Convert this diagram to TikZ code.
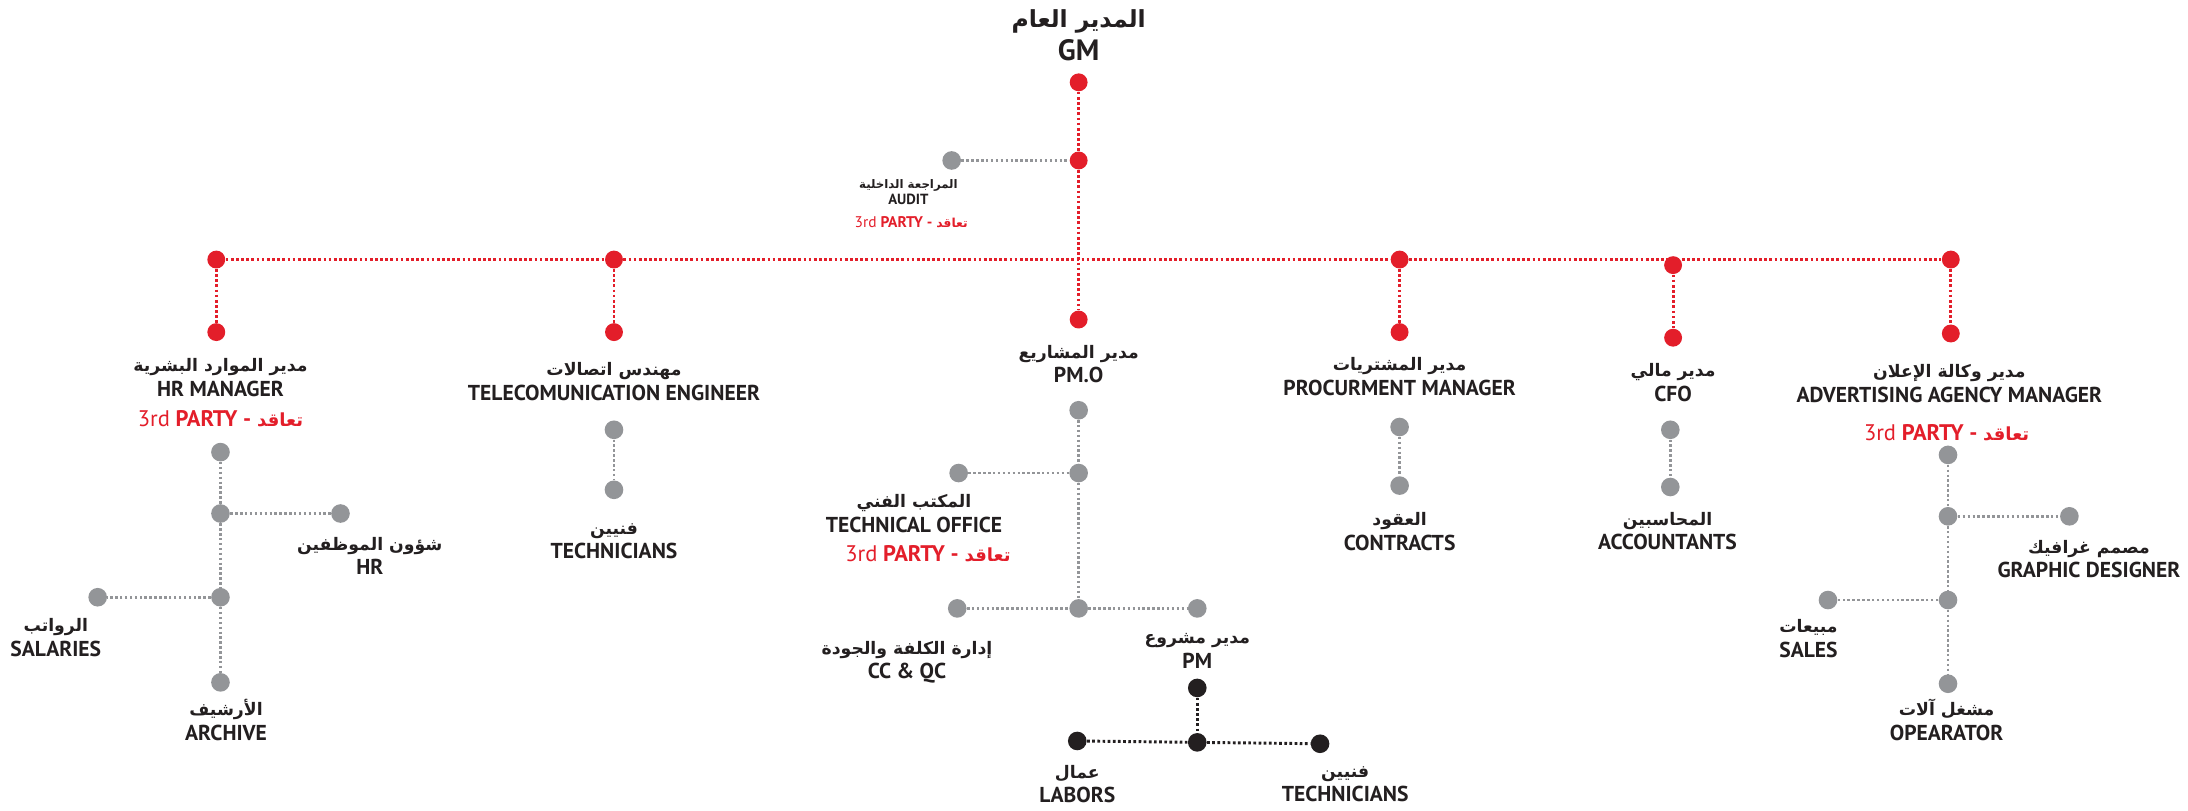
\documentclass[tikz,border=0pt]{standalone}
\usepackage{fontspec}
\setmainfont{PT Sans}
\newfontfamily\arabicfont[Script=Arabic,Scale=0.8]{DejaVu Sans}
\TeXXeTstate=1
\usetikzlibrary{positioning}
\definecolor{orgred}{HTML}{E31E2A}
\definecolor{orggrey}{HTML}{939598}
\definecolor{orgblack}{HTML}{231F20}
\newcommand{\ar}[1]{{\arabicfont\bfseries\beginR #1\endR}}
\newcommand{\third}{{\mdseries 3rd} PARTY - \ar{تعاقد}}

\tikzset{
  reddot/.style={circle,fill=orgred,inner sep=0pt,minimum size=7.3pt},
  greydot/.style={circle,fill=orggrey,inner sep=0pt,minimum size=7.6pt},
  blackdot/.style={circle,fill=orgblack,inner sep=0pt,minimum size=7.6pt},
  redlink/.style={orgred,line width=1.2pt,dash pattern=on 1.1pt off 1pt},
  greylink/.style={orggrey,line width=1.1pt,dash pattern=on 1pt off 1pt},
  blacklink/.style={orgblack,line width=1.2pt,dash pattern=on 1.1pt off 1pt},
  txt/.style={align=center,inner sep=0pt,text=orgblack,font=\fontsize{8.8}{10}\selectfont\bfseries},
  smalltxt/.style={align=center,inner sep=0pt,text=orgblack,font=\fontsize{6}{6.4}\selectfont\bfseries},
  redtxt/.style={inner sep=0pt,text=orgred,font=\fontsize{9.2}{10}\selectfont\bfseries}
}

\begin{document}
\begin{tikzpicture}[x=0.02cm,y=-0.02cm]
\useasboundingbox (0,0) rectangle (1568,581);

%GM
\node[txt,font=\fontsize{12}{13.5}\selectfont\bfseries] (gmtxt) at (773,25) {\ar{المدير العام}\\GM};
\node[reddot] (gm) at (773,59) {};
\node[reddot] (gmsplit) at (773,115) {};
\node[greydot] (audit) at (682,115) {};
\node[smalltxt] (audittxt) at (651,137.5) {\ar{المراجعة الداخلية}\\AUDIT};
\node[redtxt,font=\fontsize{6.3}{7}\selectfont\bfseries] (audit3rd) at (653,159) {\third};
\draw[redlink] (gm) -- (gmsplit);
\draw[greylink] (audit) -- (gmsplit);

%first level
\node[reddot] (hrtop) at (155,186) {};
\node[reddot] (teltop) at (440,186) {};
\node[reddot] (proctop) at (1003,186) {};
\node[reddot] (cfotop) at (1199,190) {};
\node[reddot] (advtop) at (1398,186) {};
\node[reddot] (hr) at (155,238) {};
\node[reddot] (tel) at (440,238) {};
\node[reddot] (pmo) at (773,229) {};
\node[reddot] (proc) at (1003,238) {};
\node[reddot] (cfo) at (1199,242) {};
\node[reddot] (adv) at (1398,239) {};
\draw[redlink] (hrtop) -- (teltop) -- (proctop) -- (advtop);
\draw[redlink] (gmsplit) -- (pmo);
\foreach \n in {hr,tel,proc,cfo,adv}
  \draw[redlink] (\n top) -- (\n);

\node[txt] (hrtxt) at (158,270.5) {\ar{مدير الموارد البشرية}\\HR MANAGER};
\node[redtxt] (hr3rd) at (158,300) {\third};
\node[txt] (teltxt) at (440,273.5) {\ar{مهندس اتصالات}\\TELECOMUNICATION ENGINEER};
\node[txt] (pmotxt) at (773,261) {\ar{مدير المشاريع}\\PM.O};
\node[txt] (proctxt) at (1003,270) {\ar{مدير المشتريات}\\PROCURMENT MANAGER};
\node[txt] (cfotxt) at (1199,274) {\ar{مدير مالي}\\CFO};
\node[txt] (advtxt) at (1397,275) {\ar{مدير وكالة الإعلان}\\ADVERTISING AGENCY MANAGER};
\node[redtxt] (adv3rd) at (1395,310) {\third};

%HR branch
\node[greydot] (hra) at (158,324) {};
\node[greydot] (hrb) at (158,368) {};
\node[greydot] (staff) at (244,368) {};
\node[greydot] (hrc) at (158,428) {};
\node[greydot] (salaries) at (70,428) {};
\node[greydot] (archive) at (158,489) {};
\draw[greylink] (hra) -- (hrb) -- (hrc) -- (archive);
\draw[greylink] (hrb) -- (staff);
\draw[greylink] (hrc) -- (salaries);
\node[txt] (stafftxt) at (265,398.5) {\ar{شؤون الموظفين}\\HR};
\node[txt] (salariestxt) at (40,457) {\ar{الرواتب}\\SALARIES};
\node[txt] (archivetxt) at (162,516) {\ar{الأرشيف}\\ARCHIVE};

%telecom branch
\node[greydot] (tela) at (440,308) {};
\node[greydot] (teltech) at (440,351) {};
\draw[greylink] (tela) -- (teltech);
\node[txt] (teltechtxt) at (440,388) {\ar{فنيين}\\TECHNICIANS};

%PM.O branch
\node[greydot] (pmoa) at (773,294) {};
\node[greydot] (pmob) at (773,339) {};
\node[greydot] (techoff) at (687,339) {};
\node[greydot] (pmoc) at (773,436) {};
\node[greydot] (ccqc) at (686,436) {};
\node[greydot] (pm) at (858,436) {};
\draw[greylink] (pmoa) -- (pmob) -- (pmoc);
\draw[greylink] (techoff) -- (pmob);
\draw[greylink] (ccqc) -- (pmoc) -- (pm);
\node[txt] (techofftxt) at (655,368) {\ar{المكتب الفني}\\TECHNICAL OFFICE};
\node[redtxt] (techoff3rd) at (665,397) {\third};
\node[txt] (ccqctxt) at (650,474.5) {\ar{إدارة الكلفة والجودة}\\CC \& QC};
\node[txt] (pmtxt) at (858,466.5) {\ar{مدير مشروع}\\PM};

%PM team
\node[blackdot] (pma) at (858,493) {};
\node[blackdot] (pmb) at (858,532) {};
\node[blackdot] (labors) at (772,531) {};
\node[blackdot] (pmtech) at (946,533) {};
\draw[blacklink] (pma) -- (pmb);
\draw[blacklink] (labors) -- (pmb) -- (pmtech);
\node[txt] (laborstxt) at (772,562) {\ar{عمال}\\LABORS};
\node[txt] (pmtechtxt) at (964,562) {\ar{فنيين}\\TECHNICIANS};

%procurement and CFO branches
\node[greydot] (proca) at (1003,306) {};
\node[greydot] (contracts) at (1003,348) {};
\draw[greylink] (proca) -- (contracts);
\node[txt] (contractstxt) at (1003,381) {\ar{العقود}\\CONTRACTS};
\node[greydot] (cfoa) at (1197,308) {};
\node[greydot] (accountants) at (1197,349) {};
\draw[greylink] (cfoa) -- (accountants);
\node[txt] (accountantstxt) at (1195,380.5) {\ar{المحاسبين}\\ACCOUNTANTS};

%advertising branch
\node[greydot] (adva) at (1396,326) {};
\node[greydot] (advb) at (1396,370) {};
\node[greydot] (graphic) at (1483,370) {};
\node[greydot] (advc) at (1396,430) {};
\node[greydot] (sales) at (1310,430) {};
\node[greydot] (operator) at (1396,490) {};
\draw[greylink] (adva) -- (advb) -- (advc) -- (operator);
\draw[greylink] (advb) -- (graphic);
\draw[greylink] (advc) -- (sales);
\node[txt] (graphictxt) at (1497,400.5) {\ar{مصمم غرافيك}\\GRAPHIC DESIGNER};
\node[txt] (salestxt) at (1296,457.5) {\ar{مبيعات}\\SALES};
\node[txt] (operatortxt) at (1395,516) {\ar{مشغل آلات}\\OPEARATOR};
\end{tikzpicture}
\end{document}
